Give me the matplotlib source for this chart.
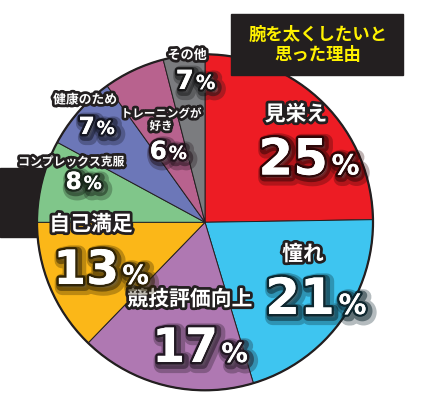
import matplotlib
matplotlib.use('Agg')
import matplotlib.pyplot as plt
import matplotlib.patheffects as pe
from matplotlib.patches import Rectangle, Circle
from matplotlib.colors import to_rgb

plt.rcParams['font.family'] = ['Noto Sans CJK JP', 'DejaVu Sans']

# data
labels = ['見栄え', '憧れ', '競技評価向上', '自己満足', 'コンプレックス克服',
          '健康のため', 'トレーニングが\n好き', 'その他']
pct = [25, 21, 17, 13, 8, 7, 6, 7]
# wedge share as drawn in the original (その他 is squeezed, total 104%)
share = [24.75, 20.6, 16.9, 12.75, 7.9, 7.2, 5.9, 4.0]
colors = ['#ED1C24', '#3EC5F0', '#AF78B2', '#FBB718', '#80C68A',
          '#6C77B8', '#B8628E', '#7B7C7F']
title = '腕を太くしたいと\n思った理由'

W, H = 422, 406
dark = '#231F20'

fig = plt.figure(figsize=(W / 100, H / 100), dpi=100)
ax = fig.add_axes([0, 0, 1, 1])

def Y(y):
    return H - y

cx, cy, r = 205, Y(223.3), 168

# black tab on the left, behind the pie
ax.add_patch(Rectangle((0, Y(238)), 60, 69, color=dark, zorder=0))

ax.pie(share, colors=colors, startangle=90, counterclock=False,
       center=(cx, cy), radius=r, frame=True,
       wedgeprops=dict(edgecolor=dark, linewidth=0.7))
ax.set_xlim(0, W)
ax.set_ylim(0, H)
ax.set_aspect('auto')
ax.axis('off')
ax.add_patch(Circle((cx, cy), r, fill=False, edgecolor=dark, linewidth=1.6, zorder=3))

# title box
ax.add_patch(Rectangle((231, Y(76)), 172, 61, color=dark, zorder=5))
ax.text(318, Y(45), title, color='#FFF200', fontsize=12.5, fontweight='bold',
        ha='center', va='center', linespacing=1.15, zorder=6)

def darker(c, f=0.18):
    return tuple(v * f for v in to_rgb(c))

def glow(c):
    d = darker(c)
    return [pe.withStroke(linewidth=11, foreground=d, alpha=0.3, offset=(2.5, -2.5)),
            pe.withStroke(linewidth=7, foreground=d, alpha=0.5, offset=(1.5, -1.5)),
            pe.withStroke(linewidth=3.5, foreground=d, alpha=0.95),
            pe.Normal()]

outline = [pe.withStroke(linewidth=4, foreground=dark)]

# category labels: (x, y, fontsize)
lab_pos = [(296, 115, 15), (303, 255, 15), (190, 300, 15), (91, 225, 15),
           (71, 163, 8.5), (85, 101, 9.2), (161, 121, 8.3), (187, 56, 9.4)]
# numbers: (x right edge of digits, baseline, digit size, percent size)
num_pos = [(328, 175.5, 36, 20), (335, 315, 36, 20), (218, 363, 34, 19),
           (119, 285, 34, 19), (82, 190, 17, 13), (95, 135, 17, 13),
           (167, 160, 18, 13), (194, 90, 19, 14)]

for i in range(len(labels)):
    lx, ly, ls = lab_pos[i]
    ax.text(lx, Y(ly), labels[i], color='white', fontsize=ls, fontweight='bold',
            ha='center', va='center', linespacing=0.95, zorder=7,
            path_effects=outline)
    nx, ny, ds, ps = num_pos[i]
    ax.text(nx, Y(ny), str(pct[i]), color='white', fontsize=ds, fontweight='bold',
            family='DejaVu Sans', ha='right', va='baseline', zorder=7,
            path_effects=glow(colors[i]))
    ax.text(nx + ds * 0.1, Y(ny), '%', color='white', fontsize=ps, fontweight='bold',
            family='DejaVu Sans', ha='left', va='baseline', zorder=7,
            path_effects=glow(colors[i]))

fig.savefig('out.png', dpi=100)
